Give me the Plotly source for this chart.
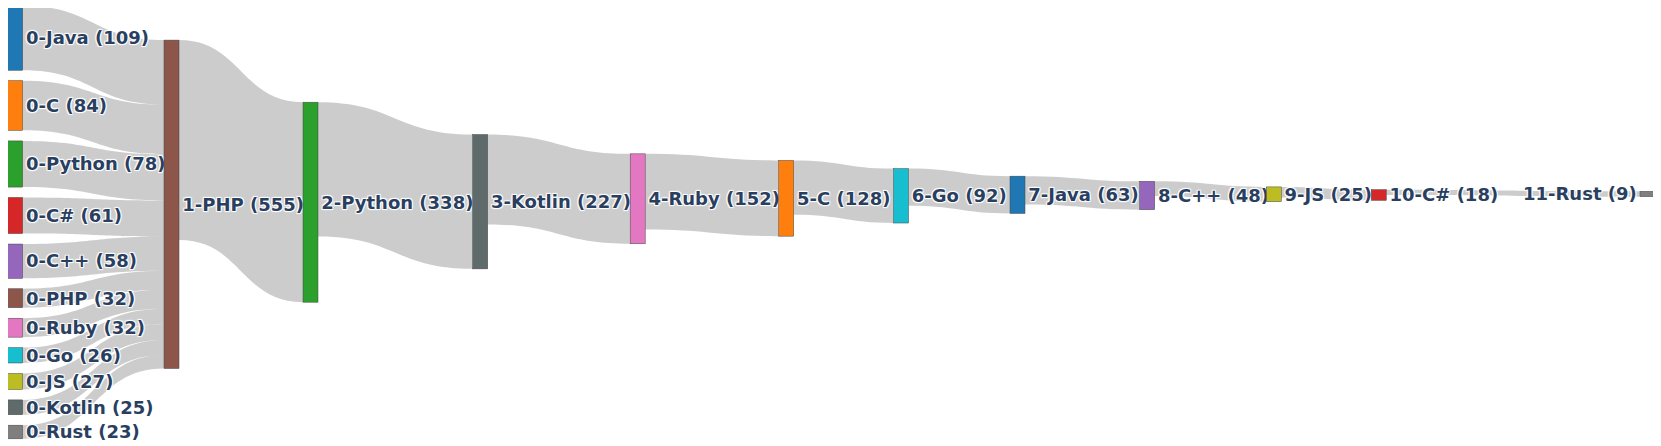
import plotly.graph_objects as go

# ---- data ----
source_langs = ["Java", "C", "Python", "C#", "C++", "PHP", "Ruby", "Go", "JS", "Kotlin", "Rust"]
source_values = [109, 84, 78, 61, 58, 32, 32, 26, 27, 25, 23]
chain_langs = ["PHP", "Python", "Kotlin", "Ruby", "C", "Go", "Java", "C++", "JS", "C#", "Rust"]
chain_values = [555, 338, 227, 152, 128, 92, 63, 48, 25, 18, 9]

lang_colors = {
    "Java": "#1f77b4", "C": "#ff7f0e", "Python": "#2ca02c", "C#": "#d62728",
    "C++": "#9467bd", "PHP": "#8c564b", "Ruby": "#e377c2", "Go": "#17becf",
    "JS": "#bcbd22", "Kotlin": "#5f6b6b", "Rust": "#7f7f7f",
}

# ---- node arrangement (layout, pixels of a 1661x446 canvas) ----
W, H = 1661, 446
OFF = 7.5  # plotly draws the node rect offset by half the thickness
col_centers_px = [14.7, 171, 310, 479.7, 637.2, 785.7, 900.5, 1017, 1146.7, 1273.3, 1378.3, 1647]
left_centers_px = [37.5, 105, 163.5, 215, 260.7, 297.7, 327.2, 354.8, 381, 406.8, 431.5]
chain_centers_px = [203.8, 201.7, 201.2, 198.3, 197.8, 195.3, 194.3, 195, 193.8, 194.5, 193.5]

labels, colors, xs, ys = [], [], [], []
for lang, v, yc in zip(source_langs, source_values, left_centers_px):
    labels.append(f"0-{lang} ({v})")
    colors.append(lang_colors[lang])
    xs.append((col_centers_px[0] - OFF) / W)
    ys.append((yc - OFF) / H)
for i, (lang, v, yc) in enumerate(zip(chain_langs, chain_values, chain_centers_px)):
    labels.append(f"{i + 1}-{lang} ({v})")
    colors.append(lang_colors[lang])
    xs.append((col_centers_px[i + 1] - OFF) / W)
    ys.append((yc - OFF) / H)

n_src = len(source_langs)
src, tgt, val = [], [], []
for i, v in enumerate(source_values):
    src.append(i)
    tgt.append(n_src)
    val.append(v)
for i in range(len(chain_values) - 1):
    src.append(n_src + i)
    tgt.append(n_src + i + 1)
    val.append(chain_values[i + 1])

fig = go.Figure(go.Sankey(
    arrangement="fixed",
    node=dict(
        label=labels,
        color=colors,
        x=xs,
        y=ys,
        pad=11.76,
        thickness=15,
        line=dict(color="#444", width=0.5),
    ),
    link=dict(source=src, target=tgt, value=val),
    textfont=dict(family="DejaVu Sans", size=18, color="#2a3f5f", weight="bold"),
))

fig.update_layout(
    width=W, height=H,
    margin=dict(l=0, r=0, t=0, b=0),
    paper_bgcolor="white",
    plot_bgcolor="white",
)

fig.write_html("out.html")
